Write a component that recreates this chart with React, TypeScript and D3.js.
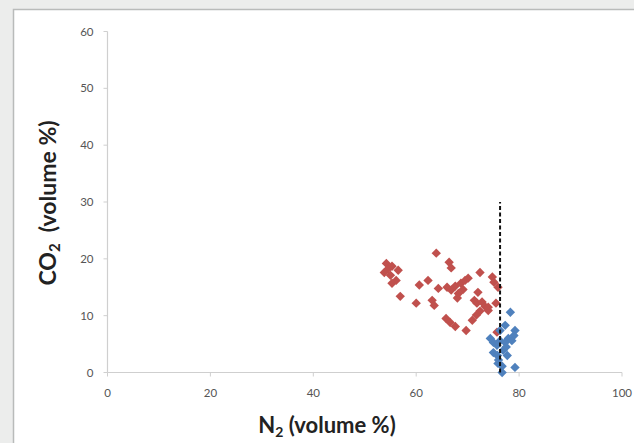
import React from "react";
import * as d3 from "d3";

const redN2 = [54.2, 54.6, 53.8, 55.3, 56.5, 55.0, 56.1, 55.3, 56.9, 63.9, 60.6, 60.0, 62.3, 63.1, 63.5, 66.4, 66.8, 64.3, 66.0, 67.6, 68.7, 69.5, 70.1, 69.1, 68.2, 66.8, 68.0, 65.8, 66.6, 67.6, 69.7, 72.4, 74.8, 75.1, 75.9, 72.0, 71.3, 71.8, 72.8, 73.4, 74.0, 72.4, 71.7, 70.9, 74.0, 75.5, 75.7];
const redCO2 = [19.2, 18.3, 17.6, 18.7, 18.0, 17.1, 16.2, 15.7, 13.4, 21.0, 15.4, 12.2, 16.2, 12.7, 11.8, 19.4, 18.4, 14.8, 15.0, 15.2, 15.7, 16.2, 16.6, 14.6, 13.9, 14.5, 13.1, 9.5, 8.8, 8.1, 7.4, 17.6, 16.8, 15.9, 15.0, 14.1, 12.7, 12.2, 12.4, 11.6, 10.9, 10.8, 10.1, 9.2, 11.5, 12.2, 7.1];
const blueN2 = [78.3, 77.3, 79.2, 79.0, 77.9, 76.3, 75.0, 74.4, 75.7, 77.3, 78.6, 75.0, 75.8, 77.7, 76.9, 75.9, 76.7, 79.2, 76.7, 76.3, 77.5, 76.0];
const blueCO2 = [10.6, 8.3, 7.4, 6.5, 6.0, 5.6, 5.3, 6.0, 4.8, 5.3, 5.6, 3.5, 3.0, 3.0, 3.9, 1.6, 1.1, 0.9, 0.0, 7.4, 4.5, 2.2];
const xTicks = [0, 20, 40, 60, 80, 100];
const yTicks = [0, 10, 20, 30, 40, 50, 60];
const refLineN2 = 76.3;
const refLineCO2 = [0, 30];

export default function App() {
  const W = 634, H = 443;
  const x = d3.scaleLinear().domain([0, 100]).range([107.5, 622]);
  const y = d3.scaleLinear().domain([0, 60]).range([372.5, 31.5]);
  const diamond = d3.symbol().type(d3.symbolDiamond2).size(56)();
  const font = "Lato, 'Open Sans', sans-serif";
  return (
    <svg width={W} height={H} style={{ position: "fixed", left: 0, top: 0 }} >
      <rect x={0} y={0} width={W} height={H} fill="#ecedec" />
      <rect x={13.5} y={9.5} width={W} height={H} fill="#ffffff" stroke="#b9bbba" strokeWidth={1.5} />
      {/* axes */}
      <line x1={x(0)} x2={x(100)} y1={y(0)} y2={y(0)} stroke="#cfcfcf" strokeWidth={1.2} />
      <line x1={x(0)} x2={x(0)} y1={y(0)} y2={y(60)} stroke="#cfcfcf" strokeWidth={1.2} />
      {xTicks.map((t) => (
        <g key={"x" + t}>
          <line x1={x(t)} x2={x(t)} y1={y(0)} y2={y(0) + 4} stroke="#cfcfcf" />
          <text x={x(t)} y={y(0) + 24.5} textAnchor="middle" fontFamily={font} fontSize={11.5} fill="#555">{t}</text>
        </g>
      ))}
      {yTicks.map((t) => (
        <g key={"y" + t}>
          <line x1={x(0) - 4} x2={x(0)} y1={y(t)} y2={y(t)} stroke="#cfcfcf" />
          <text x={x(0) - 14} y={y(t) + 4} textAnchor="end" fontFamily={font} fontSize={11.5} fill="#555">{t}</text>
        </g>
      ))}
      {/* points */}
      {redN2.map((v, i) => (
        <path key={"r" + i} d={diamond} transform={`translate(${x(v)},${y(redCO2[i])})`} fill="#c0504d" />
      ))}
      {blueN2.map((v, i) => (
        <path key={"b" + i} d={diamond} transform={`translate(${x(v)},${y(blueCO2[i])})`} fill="#4f81bd" />
      ))}
      <line x1={x(refLineN2)} x2={x(refLineN2)} y1={y(refLineCO2[0])} y2={y(refLineCO2[1])} stroke="#111" strokeWidth={2} strokeDasharray="4,2.5" />
      {/* titles */}
      <text x={327} y={433} textAnchor="middle" fontFamily={font} fontWeight="bold" fontSize={22} fill="#222">
        N<tspan fontSize={14} dy={4}>2</tspan><tspan dy={-4}> (volume %)</tspan>
      </text>
      <text transform="translate(56,203) rotate(-90)" textAnchor="middle" fontFamily={font} fontWeight="bold" fontSize={23} fill="#222" style={{ whiteSpace: "pre" }}>
        CO<tspan fontSize={15} dy={4}>2</tspan><tspan dy={-4}>{"  (volume %)"}</tspan>
      </text>
    </svg>
  );
}
